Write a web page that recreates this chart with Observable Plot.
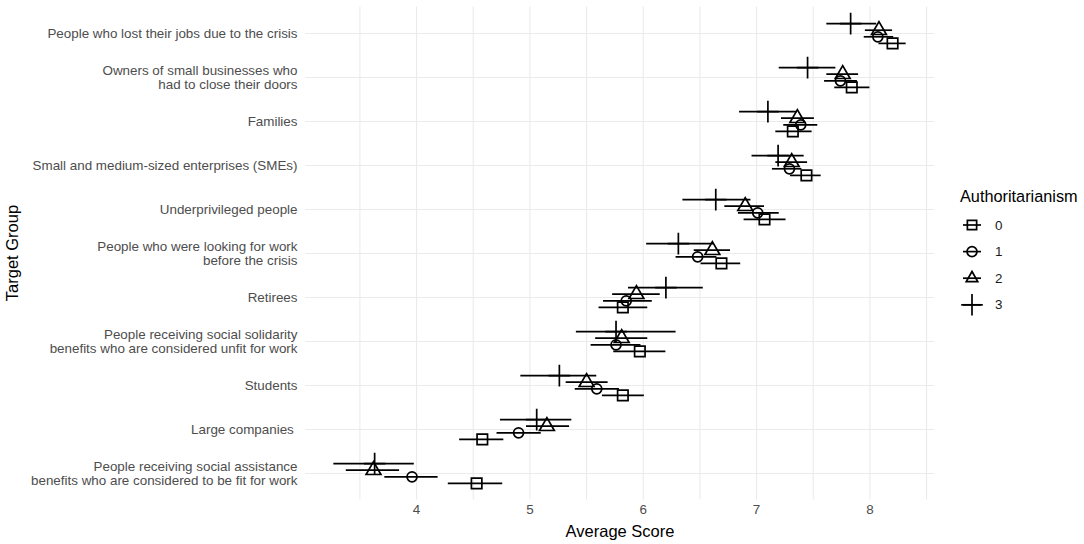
<!DOCTYPE html>
<html>
<head>
<meta charset="utf-8">
<script src="https://cdn.jsdelivr.net/npm/d3@7"></script>
<script src="https://cdn.jsdelivr.net/npm/@observablehq/plot@0.6"></script>
<style>
  body { margin: 0; background: #fff; font-family: "Liberation Sans", Arial, sans-serif; }
  #wrap { position: relative; width: 1084px; height: 544px; overflow: hidden; }
  #chart { position: absolute; left: 0; top: 0; }
  .ytitle { position: absolute; left: 12px; top: 253px; transform: translate(-50%, -50%) rotate(-90deg); font-size: 16.5px; color: #000; white-space: nowrap; }
  .xtitle { position: absolute; left: 620px; top: 531px; transform: translate(-50%, -50%); font-size: 16.5px; color: #000; white-space: nowrap; }
  #legend { position: absolute; left: 960px; top: 187px; }
  #legend .ltitle { font-size: 16.3px; color: #000; white-space: nowrap; }
  #legend svg { position: absolute; left: -8px; top: 25px; overflow: visible; }
</style>
</head>
<body>
<div id="wrap">
  <div id="chart"></div>
  <div class="ytitle">Target Group</div>
  <div class="xtitle">Average Score</div>
  <div id="legend"><div class="ltitle">Authoritarianism</div></div>
</div>
<script>
// ---- data ----
const groups = [
  "People who lost their jobs due to the crisis",
  "Owners of small businesses who\nhad to close their doors",
  "Families",
  "Small and medium-sized enterprises (SMEs)",
  "Underprivileged people",
  "People who were looking for work\nbefore the crisis",
  "Retirees",
  "People receiving social solidarity\nbenefits who are considered unfit for work",
  "Students",
  "Large companies\u00a0",
  "People receiving social assistance\nbenefits who are considered to be fit for work"
];
const levels = ["0", "1", "2", "3"];
const shapes = ["square", "circle", "triangle", "plus"];

// Authoritarianism = 0
const mean0 = [8.20, 7.84, 7.32, 7.44, 7.07, 6.69, 5.82, 5.97, 5.82, 4.58, 4.53];
const lo0   = [8.08, 7.69, 7.17, 7.30, 6.89, 6.51, 5.61, 5.74, 5.64, 4.38, 4.28];
const hi0   = [8.32, 8.00, 7.49, 7.57, 7.26, 6.86, 6.04, 6.20, 6.01, 4.77, 4.76];
// Authoritarianism = 1
const mean1 = [8.07, 7.74, 7.39, 7.29, 7.01, 6.48, 5.85, 5.76, 5.59, 4.90, 3.96];
const lo1   = [7.95, 7.60, 7.24, 7.14, 6.84, 6.29, 5.65, 5.54, 5.40, 4.71, 3.72];
const hi1   = [8.21, 7.89, 7.54, 7.40, 7.20, 6.65, 6.08, 5.98, 5.79, 5.10, 4.19];
// Authoritarianism = 2
const mean2 = [8.08, 7.76, 7.36, 7.31, 6.90, 6.61, 5.94, 5.81, 5.50, 5.15, 3.62];
const lo2   = [7.96, 7.62, 7.22, 7.17, 6.72, 6.45, 5.73, 5.58, 5.32, 4.97, 3.38];
const hi2   = [8.20, 7.90, 7.51, 7.45, 7.07, 6.77, 6.15, 6.04, 5.69, 5.35, 3.85];
// Authoritarianism = 3
const mean3 = [7.83, 7.45, 7.10, 7.19, 6.64, 6.31, 6.20, 5.76, 5.26, 5.06, 3.63];
const lo3   = [7.62, 7.20, 6.85, 6.96, 6.35, 6.03, 5.87, 5.41, 4.92, 4.74, 3.27];
const hi3   = [8.06, 7.70, 7.36, 7.42, 6.95, 6.62, 6.53, 6.29, 5.59, 5.37, 3.98];

const xTicks = [4, 5, 6, 7, 8];
const xMinor = [3.5, 4.5, 5.5, 6.5, 7.5, 8.5];

// ---- build table ----
const seriesArrays = [[mean0, lo0, hi0], [mean1, lo1, hi1], [mean2, lo2, hi2], [mean3, lo3, hi3]];
const rowsByLevel = levels.map((lv, k) =>
  groups.map((g, i) => ({group: g, level: lv, mean: seriesArrays[k][0][i], lo: seriesArrays[k][1][i], hi: seriesArrays[k][2][i]}))
);

const dodge = [9.9, 3.3, -3.3, -9.9];
const radius = [5.9, 5.0, 5.5, 7.0];
const sw = 1.7;

const marks = [
  Plot.gridX(xMinor, {stroke: "#ebebeb", strokeOpacity: 1, strokeWidth: 1.1}),
  Plot.gridX(xTicks, {stroke: "#ebebeb", strokeOpacity: 1, strokeWidth: 1.1}),
  Plot.gridY(groups, {stroke: "#ebebeb", strokeOpacity: 1, strokeWidth: 1.1}),
  Plot.axisX({ticks: xTicks, tickFormat: d3.format("d"), tickSize: 0, tickPadding: 5, fontSize: 13.4, label: null, fill: "#4d4d4d"}),
  Plot.axisY({tickSize: 0, tickPadding: 8, fontSize: 13.4, lineHeight: 1.07, label: null, fill: "#4d4d4d"})
];
levels.forEach((lv, k) => {
  marks.push(Plot.ruleY(rowsByLevel[k], {y: "group", x1: "lo", x2: "hi", dy: dodge[k], stroke: "black", strokeWidth: sw}));
});
levels.forEach((lv, k) => {
  marks.push(Plot.dot(rowsByLevel[k], {y: "group", x: "mean", dy: dodge[k], symbol: shapes[k], r: radius[k], stroke: "black", fill: "none", strokeWidth: sw}));
});

const chart = Plot.plot({
  width: 945,
  height: 544,
  marginLeft: 305,
  marginRight: 11,
  marginTop: 6.6,
  marginBottom: 44.6,
  style: {fontFamily: "'Liberation Sans', Arial, sans-serif", background: "#fff", color: "#4d4d4d"},
  x: {domain: [3.02, 8.57]},
  y: {type: "point", domain: groups, padding: 0.6},
  marks
});
document.getElementById("chart").appendChild(chart);

// ---- legend ----
const symMap = {square: d3.symbolSquare2, circle: d3.symbolCircle, triangle: d3.symbolTriangle2, plus: d3.symbolPlus};
const lsvg = d3.select("#legend").append("svg").attr("width", 130).attr("height", 120);
levels.forEach((lv, k) => {
  const gy = 13 + k * 26.6;
  const g = lsvg.append("g").attr("transform", `translate(20,${gy})`);
  g.append("line").attr("x1", -9).attr("x2", 9).attr("stroke", "black").attr("stroke-width", sw);
  g.append("path")
    .attr("d", d3.symbol(symMap[shapes[k]], Math.PI * radius[k] * radius[k])())
    .attr("fill", "none").attr("stroke", "black").attr("stroke-width", sw);
  lsvg.append("text").attr("x", 43).attr("y", gy).attr("dy", "0.35em")
    .attr("font-size", 13.4).attr("fill", "#1a1a1a")
    .attr("font-family", "'Liberation Sans', Arial, sans-serif").text(lv);
});
</script>
</body>
</html>
